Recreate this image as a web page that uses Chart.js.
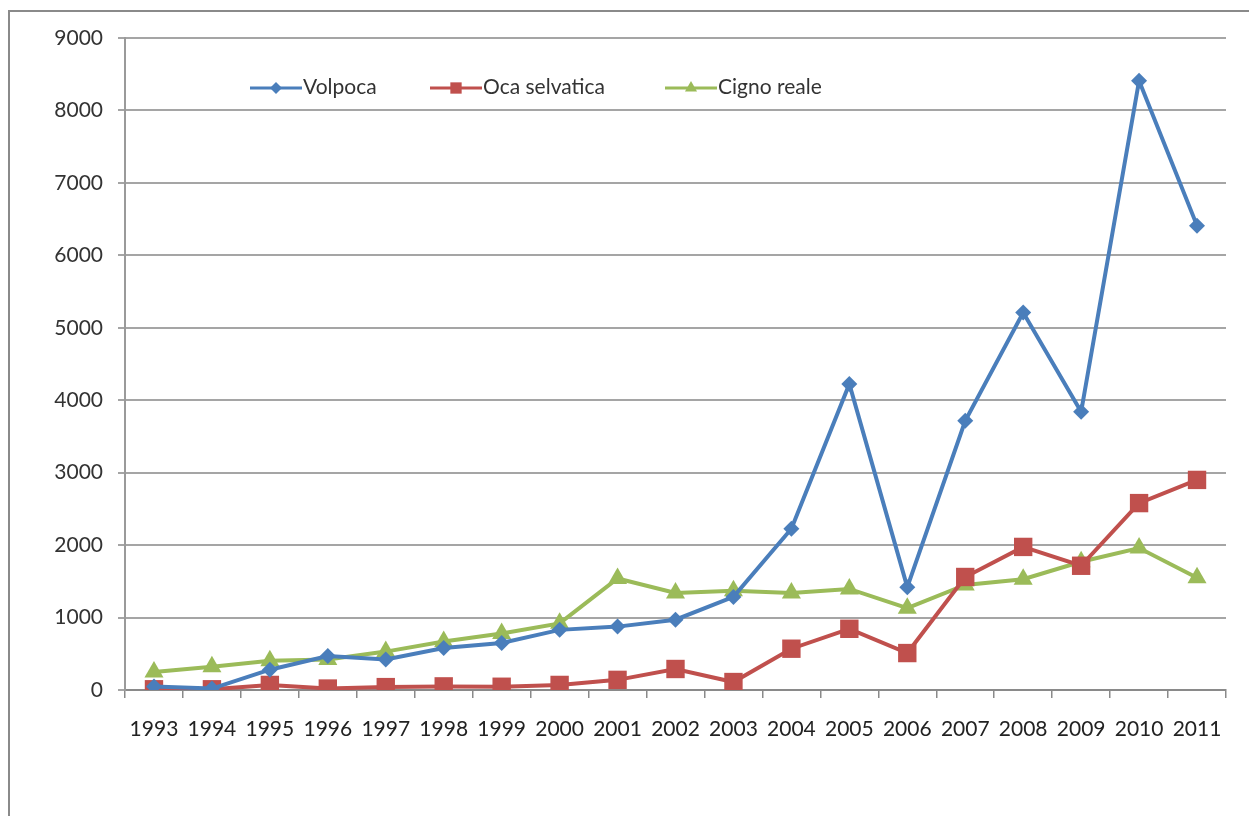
<!DOCTYPE html>
<html>
<head>
<meta charset="utf-8">
<script src="https://cdn.jsdelivr.net/npm/chart.js@4"></script>
<style>
  html, body { margin: 0; padding: 0; background: #fff; }
  #wrap { width: 1249px; height: 816px; position: relative; }
</style>
</head>
<body>
<div id="wrap"><canvas id="myChart" width="1249" height="816"></canvas></div>
<script>
const years = ['1993','1994','1995','1996','1997','1998','1999','2000','2001','2002',
               '2003','2004','2005','2006','2007','2008','2009','2010','2011'];
const volpoca = [50, 20, 280, 470, 420, 580, 650, 830, 875, 970,
                 1285, 2225, 4225, 1420, 3715, 5210, 3840, 8410, 6410];
const ocaSelvatica = [10, 10, 70, 20, 40, 50, 45, 70, 140, 290,
                      110, 570, 845, 510, 1560, 1975, 1715, 2580, 2900];
const cignoReale = [250, 320, 405, 420, 530, 670, 780, 920, 1540, 1340,
                    1370, 1340, 1395, 1130, 1450, 1530, 1770, 1960, 1550];
const yTicks = [0, 1000, 2000, 3000, 4000, 5000, 6000, 7000, 8000, 9000];

const FONT = 'Lato, "Liberation Sans", sans-serif';

// frame around the whole picture
const framePlugin = {
    id: 'frame',
    beforeDraw(chart) {
        const ctx = chart.ctx;
        ctx.save();
        ctx.fillStyle = '#fff';
        ctx.fillRect(0, 0, chart.width, chart.height);
        ctx.strokeStyle = '#8a8a8a';
        ctx.lineWidth = 2;
        ctx.strokeRect(9, 11, chart.width + 20, chart.height + 20);
        ctx.restore();
    }
};

// legend drawn inside the plot, like the original
const legendPlugin = {
    id: 'insideLegend',
    afterDraw(chart) {
        const ctx = chart.ctx;
        const items = [[250, 0, 6], [430, 1, 8], [665, 2, 7]];
        const y = 88;
        ctx.save();
        items.forEach(([x, i, r]) => {
            const ds = chart.data.datasets[i];
            ctx.strokeStyle = ds.borderColor;
            ctx.lineWidth = 3;
            ctx.beginPath();
            ctx.moveTo(x, y);
            ctx.lineTo(x + 52, y);
            ctx.stroke();
            ctx.fillStyle = ds.backgroundColor;
            Chart.helpers.drawPoint(ctx, {pointStyle: ds.pointStyle, radius: r, borderWidth: 0, rotation: 0}, x + 26, y);
            ctx.fillStyle = '#333';
            ctx.font = '21px ' + FONT;
            ctx.textBaseline = 'middle';
            ctx.fillText(ds.label, x + 53, y - 1);
        });
        ctx.restore();
    }
};

const ctx = document.getElementById('myChart').getContext('2d');
const myChart = new Chart(ctx, {
    type: 'line',
    data: {
        labels: years,
        datasets: [{
            label: 'Volpoca',
            data: volpoca,
            borderColor: '#4a7ebb',
            backgroundColor: '#4a7ebb',
            borderWidth: 4,
            pointStyle: 'rectRot',
            pointRadius: 8,
            pointBorderWidth: 0,
            tension: 0
        }, {
            label: 'Oca selvatica',
            data: ocaSelvatica,
            borderColor: '#c0504d',
            backgroundColor: '#c0504d',
            borderWidth: 4,
            pointStyle: 'rect',
            pointRadius: 13,
            pointBorderWidth: 0,
            tension: 0
        }, {
            label: 'Cigno reale',
            data: cignoReale,
            borderColor: '#9bbb59',
            backgroundColor: '#9bbb59',
            borderWidth: 4,
            pointStyle: 'triangle',
            pointRadius: 11,
            pointBorderWidth: 0,
            tension: 0
        }]
    },
    options: {
        responsive: false,
        animation: false,
        layout: { padding: { top: 38, right: 23, left: 0, bottom: 0 } },
        plugins: {
            legend: { display: false },
            tooltip: { enabled: false }
        },
        scales: {
            x: {
                offset: true,
                grid: {
                    offset: true,
                    drawOnChartArea: false,
                    drawTicks: true,
                    tickLength: 8,
                    color: '#8a8a8a',
                    lineWidth: 1.5
                },
                border: { color: '#8a8a8a', width: 2 },
                ticks: {
                    color: '#222',
                    font: { family: FONT, size: 21 },
                    padding: 19,
                    maxRotation: 0,
                    autoSkip: false
                },
                afterFit(s) { s.height = 126; }
            },
            y: {
                min: 0,
                max: 9000,
                afterBuildTicks(s) { s.ticks = yTicks.map(v => ({ value: v })); },
                grid: {
                    color: '#a5a5a5',
                    lineWidth: 2,
                    tickLength: 7
                },
                border: { color: '#9a9a9a', width: 2 },
                ticks: {
                    color: '#333',
                    font: { family: FONT, size: 21 },
                    padding: 15,
                    callback: v => String(v)
                },
                afterFit(s) { s.width = 125; }
            }
        }
    },
    plugins: [framePlugin, legendPlugin]
});
</script>
</body>
</html>
